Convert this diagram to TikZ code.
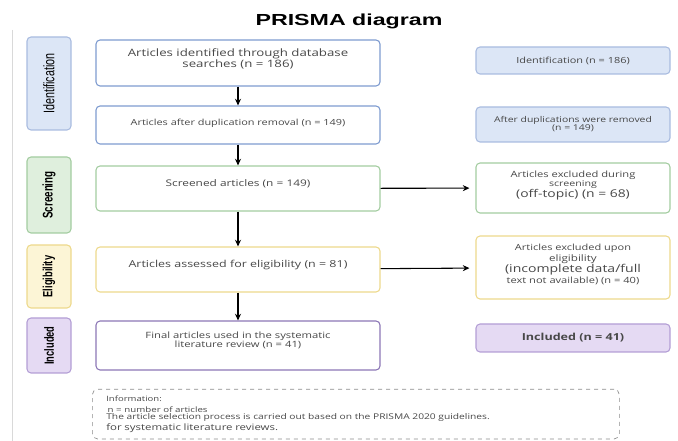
\documentclass[tikz,border=0pt]{standalone}
\usepackage{fontspec}
\setmainfont{Open Sans}[FakeStretch=1.3]
\newfontfamily\condfont[FakeStretch=0.7]{Liberation Sans}
\newfontfamily\titlefont[FakeStretch=1.45]{Liberation Sans}
\usetikzlibrary{
	arrows.meta,
	positioning
}
\definecolor{idFill}{HTML}{DCE6F6}
\definecolor{idLine}{HTML}{A9BCE0}
\definecolor{idMain}{HTML}{7E9BCF}
\definecolor{scFill}{HTML}{DFEFDD}
\definecolor{scLine}{HTML}{A3CCA0}
\definecolor{elFill}{HTML}{FCF5D6}
\definecolor{elLine}{HTML}{EDD98C}
\definecolor{inFill}{HTML}{E5DAF3}
\definecolor{inLine}{HTML}{B39ED5}
\definecolor{inMain}{HTML}{8C77B6}
\definecolor{txt}{HTML}{474747}
\tikzset{every path/.append style={line width=0.5pt}}
\tikzset{
	box/.style={draw,rounded corners=3pt,align=center,inner sep=1pt,text=txt},
	mainbox/.style={box,minimum width=213pt,line width=0.8pt},
	sidebox/.style={box,minimum width=145.5pt,line width=0.8pt},
	phasebox/.style={box,rotate=90,minimum height=33pt,line width=0.8pt,text=black,font=\condfont\fs{11.5pt}},
	flow/.style={-{Stealth[length=5pt,width=4.5pt]},line width=1pt},
	side/.style={flow,line width=0.8pt,shorten >=4.5pt}
}
\newcommand{\fs}[2][1.1]{\fontsize{#2}{#1\dimexpr#2\relax}\selectfont}
\newcommand{\noteline}[1]{\fontsize{#1}{5.6pt}\selectfont}

\begin{document}
\begin{tikzpicture}[x=0.75pt,y=-0.75pt]
	\useasboundingbox (0,0) rectangle (678,441);
	\draw[black!15] (12,30) -- (12,441);
	
	\node (title) at (349,21) [font=\titlefont\fs{12pt}\bfseries]{PRISMA diagram};
	
	% phases
	\node (pId) at (49,83.5) [phasebox,fill=idFill,draw=idLine,minimum width=69.75pt]{Identification};
	\node (pSc) at (49,195) [phasebox,fill=scFill,draw=scLine,minimum width=57pt,font=\condfont\fs{10.5pt}]{\bfseries Screening};
	\node (pEl) at (49,276.5) [phasebox,fill=elFill,draw=elLine,minimum width=47.25pt,font=\condfont\fs{10pt}]{\bfseries Eligibility};
	\node (pIn) at (49,345.5) [phasebox,fill=inFill,draw=inLine,minimum width=41.25pt,font=\condfont\fs{10pt}]{\bfseries Included};
	
	% main column
	\node (found) at (238,63) [mainbox,draw=idMain,minimum height=34.5pt,font={\fs[0.95]{7.65pt}}]{Articles identified through database\\searches (n = 186)\\[0pt]};
	\node (dedup) at (238,125) [mainbox,draw=idMain,minimum height=28.5pt,font=\fs{6.3pt}]{Articles after duplication removal (n = 149)\\[-2.4pt]};
	\node (screen) at (238,188.5) [mainbox,draw=scLine,minimum height=33.75pt,font=\fs{6.85pt}]{Screened articles (n = 149)\\[0.7pt]};
	\node (elig) at (238,269.5) [mainbox,draw=elLine,minimum height=33.75pt,font=\fs{7.2pt}]{Articles assessed for eligibility (n = 81)\\[0.3pt]};
	\node (final) at (238,345.5) [mainbox,draw=inMain,minimum height=36.75pt,font={\fs[1.04]{6.5pt}}]{Final articles used in the systematic\\literature review (n = 41)\\[1.5pt]};
	
	\draw[flow] (found) -- (dedup);
	\draw[flow] (dedup) -- (screen);
	\draw[flow] (screen) -- (elig);
	\draw[flow] (elig) -- (final);
	
	% right column
	\node (nId) at (573,60.5) [sidebox,fill=idFill,draw=idLine,minimum height=20.25pt,font=\fs{6.3pt}]{Identification (n = 186)};
	\node (nDup) at (573,124.5) [sidebox,fill=idFill,draw=idLine,minimum height=26.25pt,font={\fs[1]{6pt}}]{After duplications were removed\\(n = 149)};
	\node (exSc) at (573,188) [sidebox,draw=scLine,minimum height=37.5pt,font={\fs[1]{7.1pt}}]{\fs{6.45pt}Articles excluded during\\\fs{6.15pt}screening\\\fs{8pt}(off-topic) (n = 68)\\[-1.5pt]};
	\node (exEl) at (573,267.5) [sidebox,draw=elLine,minimum height=47.25pt,font={\fs[1]{7.7pt}}]{\fs{6.35pt}Articles excluded upon\\\fs{6.7pt}eligibility\\\fs{8.1pt}(incomplete data/full\\\fs{6.4pt}text not available) (n = 40)\\[-2pt]};
	\node (nIn) at (573,338) [sidebox,fill=inFill,draw=inLine,minimum height=21pt,font=\fs{7.25pt}\bfseries]{Included (n = 41)};
	
	\draw[side] (screen) -- (exSc);
	\draw[side] (elig) -- (exEl);
	
	% note
	\node (info) at (92,389) [anchor=north west,draw=black!45,dashed,rounded corners=4pt,
		text width=374.25pt,inner xsep=10.5pt,inner ysep=5pt,align=left,text=txt,font=\noteline{6pt}]
		{\noteline{5.5pt}Information:\\[2.4pt]
		\noteline{5.6pt}\,n = number of articles\\[0pt]
		\noteline{5.9pt}The article selection process is carried out based on the PRISMA 2020 guidelines.\\[0.4pt]
		\noteline{6.6pt}for systematic literature reviews.};
\end{tikzpicture}
\end{document}
